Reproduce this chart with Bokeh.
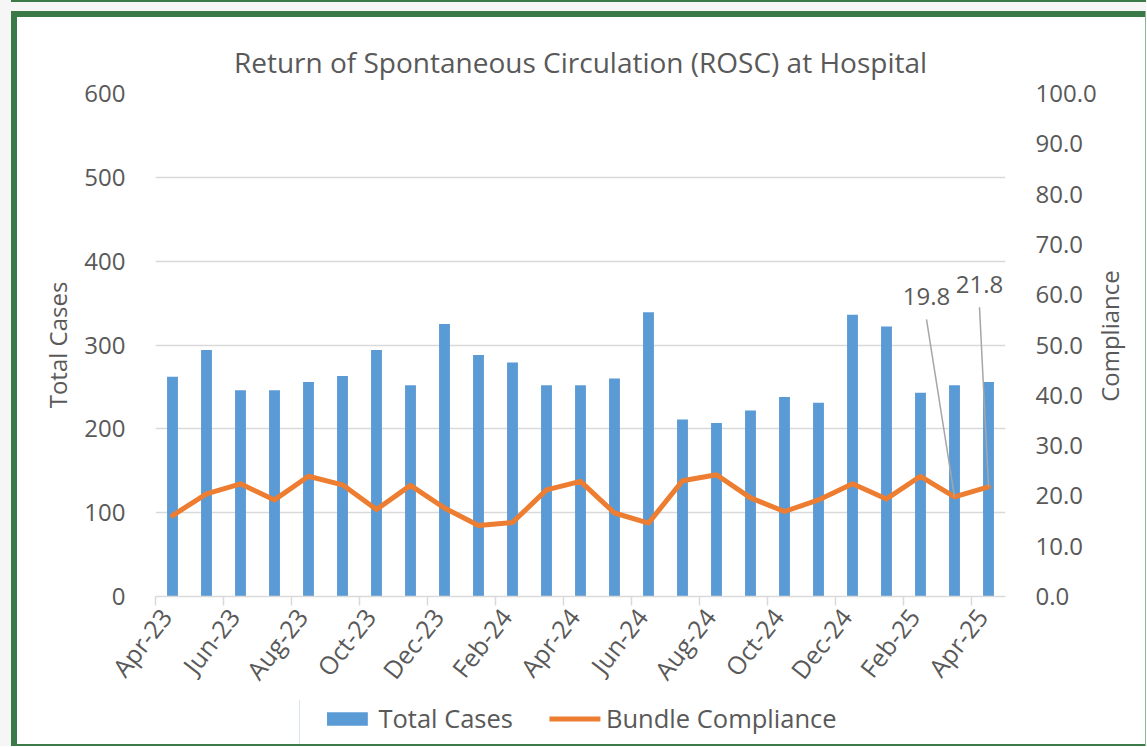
import math
from bokeh.plotting import figure
from bokeh.layouts import row, column
from bokeh.models import (Range1d, LinearAxis, FixedTicker, NumeralTickFormatter,
                          Legend, LegendItem, Label, ColumnDataSource, Spacer)
from bokeh.embed import file_html
from bokeh.resources import INLINE

# ---------------- data ----------------
months = ["Apr-23", "May-23", "Jun-23", "Jul-23", "Aug-23", "Sep-23", "Oct-23", "Nov-23",
          "Dec-23", "Jan-24", "Feb-24", "Mar-24", "Apr-24", "May-24", "Jun-24", "Jul-24",
          "Aug-24", "Sep-24", "Oct-24", "Nov-24", "Dec-24", "Jan-25", "Feb-25", "Mar-25",
          "Apr-25"]
total_cases = [262, 294, 246, 246, 256, 263, 294, 252, 325, 288, 279, 252, 252,
               260, 339, 211, 207, 222, 238, 231, 336, 322, 243, 252, 256]
compliance = [16.1, 20.4, 22.4, 19.2, 23.9, 22.2, 17.3, 22.1, 17.6, 14.1, 14.7, 21.2, 22.9,
              16.6, 14.6, 23.0, 24.2, 19.6, 16.9, 19.2, 22.4, 19.4, 23.9, 19.8, 21.8]
labelled = [23, 24]
left_ticks = [0, 100, 200, 300, 400, 500, 600]
right_ticks = [0, 10, 20, 30, 40, 50, 60, 70, 80, 90, 100]
series_names = ["Total Cases", "Bundle Compliance"]
right_title = "Compliance"
title_text = "Return of Spontaneous Circulation (ROSC) at Hospital"

# ---------------- layout / style ----------------
PW, PH = 1128, 682          # main chart figure
LH = 45                     # legend strip height
LW, LX = 560, 282           # legend strip width and left inset
BL, BR, BT, BB = 138, 140, 76, 102
FW = PW - BL - BR
FH = PH - BT - BB
FONT = "Open Sans"
TXT = "#595959"
GRID = "#d9d9d9"
BLUE = "#5B9BD5"
ORANGE = "#ED7D31"
GREEN = "#3a7a48"
LIGHT_GREEN = "#86b992"
GRAY = "#f6f6f6"
XLABEL_SHIFT = 0.3          # category units: month labels sit a little right of their tick
RTITLE_START = 38.7         # right-axis units where the rotated right title begins

n = len(months)
xs = [i + 0.5 for i in range(n)]
src = ColumnDataSource(dict(x=xs, cases=total_cases, comp=compliance))

p = figure(width=PW, height=PH, x_range=Range1d(0, n), y_range=Range1d(left_ticks[0], left_ticks[-1]),
           output_backend="svg", toolbar_location=None, tools="",
           min_border_left=BL, min_border_right=BR, min_border_top=BT, min_border_bottom=BB,
           background_fill_color="white", border_fill_color="white", outline_line_color=None)

# title
p.title.text = title_text
p.title.align = "center"
p.title.text_font = FONT
p.title.text_font_size = "28px"
p.title.text_font_style = "normal"
p.title.text_color = TXT
p.title.standoff = 25

# grid
p.xgrid.grid_line_color = None
p.ygrid.ticker = FixedTicker(ticks=left_ticks)
p.ygrid.grid_line_color = GRID
p.ygrid.grid_line_width = 1.5

# x axis: line + tick marks (labels on a second axis just below)
tick_pos = list(range(0, n, 2))
xa = p.xaxis[0]
xa.ticker = FixedTicker(ticks=tick_pos)
xa.axis_line_color = GRID
xa.axis_line_width = 1.5
xa.major_tick_line_color = GRID
xa.major_tick_line_width = 1.5
xa.major_tick_in = 0
xa.major_tick_out = 9
xa.minor_tick_line_color = None
xa.minor_tick_out = 0
xa.major_label_text_font_size = "1px"
xa.major_label_text_color = None
xa.major_label_standoff = 0

label_pos = [round(t + XLABEL_SHIFT, 3) for t in tick_pos]
xl = LinearAxis(ticker=FixedTicker(ticks=label_pos),
                major_label_overrides={lp: months[t] for lp, t in zip(label_pos, tick_pos)})
xl.axis_line_color = None
xl.major_tick_line_color = None
xl.minor_tick_line_color = None
xl.major_tick_in = 0
xl.major_tick_out = 0
xl.minor_tick_out = 0
xl.major_label_orientation = math.radians(52)
xl.major_label_text_font = FONT
xl.major_label_text_font_size = "25px"
xl.major_label_text_color = TXT
xl.major_label_standoff = 6
p.add_layout(xl, "below")

# left axis
ya = p.yaxis[0]
ya.ticker = FixedTicker(ticks=left_ticks)
ya.axis_line_color = None
ya.major_tick_line_color = None
ya.minor_tick_line_color = None
ya.major_tick_out = 0
ya.minor_tick_out = 0
ya.major_label_text_font = FONT
ya.major_label_text_font_size = "24px"
ya.major_label_text_color = TXT
ya.major_label_standoff = 30
ya.axis_label = series_names[0]
ya.axis_label_text_font = FONT
ya.axis_label_text_font_size = "24px"
ya.axis_label_text_font_style = "normal"
ya.axis_label_text_color = TXT
ya.axis_label_standoff = 7

# right axis
p.extra_y_ranges = {"right": Range1d(right_ticks[0], right_ticks[-1])}
ra = LinearAxis(y_range_name="right", ticker=FixedTicker(ticks=right_ticks),
                formatter=NumeralTickFormatter(format="0.0"))
ra.axis_line_color = None
ra.major_tick_line_color = None
ra.minor_tick_line_color = None
ra.major_tick_out = 0
ra.minor_tick_out = 0
ra.major_label_text_font = FONT
ra.major_label_text_font_size = "24px"
ra.major_label_text_color = TXT
ra.major_label_standoff = 30
p.add_layout(ra, "right")

# right axis title, written bottom-to-top
rt = LinearAxis(y_range_name="right", ticker=FixedTicker(ticks=[RTITLE_START]),
                major_label_overrides={RTITLE_START: right_title})
rt.axis_line_color = None
rt.major_tick_line_color = None
rt.minor_tick_line_color = None
rt.major_tick_out = 0
rt.minor_tick_out = 0
rt.major_label_orientation = math.pi / 2
rt.major_label_text_font = FONT
rt.major_label_text_font_size = "24px"
rt.major_label_text_color = TXT
rt.major_label_standoff = 10
p.add_layout(rt, "right")

# glyphs
p.vbar(x="x", top="cases", width=0.32, source=src, fill_color=BLUE, line_color=None)
p.line(x="x", y="comp", source=src, y_range_name="right", line_color=ORANGE,
       line_width=5, line_join="round", line_cap="round")

# data labels with leader lines
xpx = FW / n
rpx = FH / (right_ticks[-1] - right_ticks[0])
label_offsets = {23: (-28, 200), 24: (-9, 202)}
x0s, y0s, x1s, y1s = [], [], [], []
for i in labelled:
    dx, dy = label_offsets[i]
    p.add_layout(Label(x=xs[i], y=compliance[i], y_range_name="right",
                       text=f"{compliance[i]:.1f}", x_offset=dx, y_offset=dy,
                       text_align="center", text_baseline="middle",
                       text_font=FONT, text_font_size="24px", text_color=TXT))
    x0s.append(xs[i]); y0s.append(compliance[i])
    x1s.append(xs[i] + dx / xpx); y1s.append(compliance[i] + (dy - 22) / rpx)
p.segment(x0=x0s, y0=y0s, x1=x1s, y1=y1s, y_range_name="right",
          line_color="#a6a6a6", line_width=1.5)

# legend strip (separate small figure, same glyph styles)
lf = figure(width=LW, height=LH, x_range=Range1d(0, 1), y_range=Range1d(0, 1),
            output_backend="svg", toolbar_location=None, tools="",
            x_axis_location=None, y_axis_location=None, min_border=0,
            background_fill_color=None, border_fill_color=None, outline_line_color=None)
lf.center = []
lf.left = []
lf.right = []
lf.below = []
lf.above = []
lb = lf.vbar(x=[-5], top=[1], width=0.3, fill_color=BLUE, line_color=None)
ll = lf.line(x=[-5, -4], y=[0, 0], line_color=ORANGE, line_width=5, line_cap="round")
legend = Legend(items=[LegendItem(label=series_names[0], renderers=[lb]),
                       LegendItem(label=series_names[1], renderers=[ll])],
                orientation="horizontal", location="top_center",
                glyph_width=51, glyph_height=17, label_standoff=6, spacing=36,
                label_text_font=FONT, label_text_font_size="25.5px", label_text_color=TXT,
                border_line_color=None, background_fill_alpha=0, padding=0, margin=2)
lf.add_layout(legend)


def strip(w, h, color):
    return Spacer(width=w, height=h, styles={"background-color": color})


legend_row = row(strip(LX, LH, "white"), lf, strip(PW - LX - LW, LH, "white"),
                 styles={"background-color": "white"})
inner = column(strip(PW, 6, GREEN), p, legend_row, strip(PW, 2, GREEN))
framed = row(strip(6, 6 + PH + LH + 2, GREEN), inner, strip(1, 6 + PH + LH + 2, LIGHT_GREEN))
root = row(strip(11, 746, GRAY),
           column(strip(6 + PW + 1, 2, GREEN), strip(6 + PW + 1, 9, GRAY), framed))

open("out.html", "w").write(file_html(root, INLINE))
